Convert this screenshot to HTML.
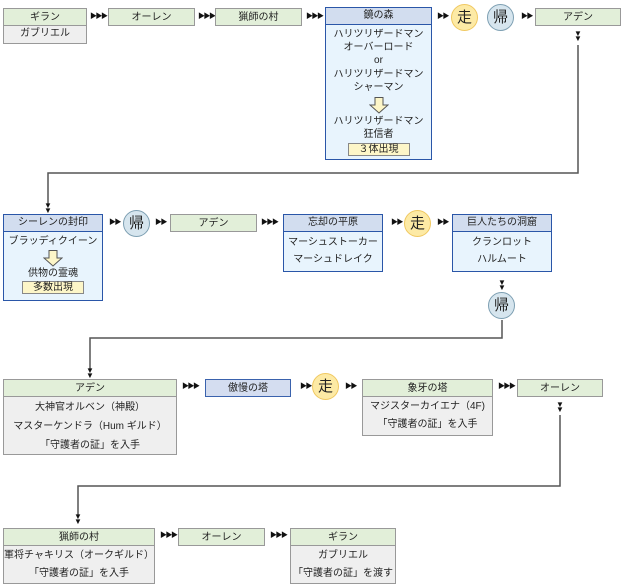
<!DOCTYPE html>
<html><head><meta charset="utf-8"><style>
body{margin:0;width:621px;height:585px;background:#fff;position:relative;overflow:hidden;font-family:"Liberation Sans","Noto Sans CJK JP",sans-serif;font-size:10px;color:#222}
div{box-sizing:border-box}
.a{position:absolute}
.gh{position:absolute;background:#e2efd9;border:1px solid #999;text-align:center;line-height:17px;height:18px}
.gb{position:absolute;background:#efefef;border:1px solid #999;border-top:none;text-align:center;line-height:19px;padding-top:1px}
.bh{position:absolute;background:#d2ddef;border:1.5px solid #2a56a8;text-align:center;line-height:16px;height:18px}
.bb{position:absolute;background:#e8f4fd;border:1.5px solid #2a56a8;border-top:none;text-align:center;line-height:13px;padding-top:3px}
.run,.ret{position:absolute;width:27px;height:27px;border-radius:50%;text-align:center;line-height:25px;font-size:15px}
.run{background:#fdeaa5;border:1px solid #f0c860}
.ret{background:#d6e5ee;border:1px solid #7d9fb2}
.ar{position:absolute;font-size:7px;letter-spacing:-1.5px;color:#111;line-height:10px}
.dn{position:absolute;font-size:8px;line-height:5px;color:#111;width:12px;text-align:center}
.lab{display:inline-block;background:#fdf6c8;border:1px solid #888;width:60px;line-height:11px;margin-top:2px}
.darr{display:block;margin:3px auto 1px}
</style></head><body>
<svg class="a" style="left:0;top:0" width="621" height="585">
<g stroke="#555" stroke-width="1.5" fill="none">
<polyline points="578,45 578,173 48,173 48,204"/>
<polyline points="502,320 502,338 90,338 90,370"/>
<polyline points="560,415 560,486 78,486 78,515"/>
</g>
</svg>

<!-- Row 1 -->
<div class="gh" style="left:3px;top:8px;width:84px">ギラン</div>
<div class="gb" style="left:3px;top:26px;width:84px;height:18px;line-height:16px;padding:0">ガブリエル</div>
<div class="ar" style="left:90px;top:12px">▶▶▶</div>
<div class="gh" style="left:108px;top:8px;width:87px">オーレン</div>
<div class="ar" style="left:198px;top:12px">▶▶▶</div>
<div class="gh" style="left:215px;top:8px;width:87px">猟師の村</div>
<div class="ar" style="left:306px;top:12px">▶▶▶</div>
<div class="bh" style="left:325px;top:7px;width:107px">鏡の森</div>
<div class="bb" style="left:325px;top:25px;width:107px;height:135px;line-height:13.2px;padding-top:3px">ハリツリザードマン<br>オーバーロード<br>or<br>ハリツリザードマン<br>シャーマン<br>
<svg class="darr" width="20" height="17"><polygon points="6,0.5 14,0.5 14,8 19,8 10,16 1,8 6,8" fill="#fdf6c8" stroke="#555"/></svg>
ハリツリザードマン<br>狂信者<br><span class="lab">３体出現</span></div>
<div class="ar" style="left:437px;top:12px">▶▶</div>
<div class="run" style="left:451px;top:4px">走</div>
<div class="ret" style="left:487px;top:4px">帰</div>
<div class="ar" style="left:521px;top:12px">▶▶</div>
<div class="gh" style="left:535px;top:8px;width:86px">アデン</div>
<div class="dn" style="left:572px;top:31px">▼<br>▼</div>

<!-- Row 2 -->
<div class="dn" style="left:42px;top:203px">▼<br>▼</div>
<div class="bh" style="left:3px;top:214px;width:100px">シーレンの封印</div>
<div class="bb" style="left:3px;top:232px;width:100px;height:69px;line-height:14px;padding-top:3px">ブラッディクイーン<br>
<svg class="darr" width="20" height="17" style="margin:1px auto 0"><polygon points="6,0.5 14,0.5 14,8 19,8 10,16 1,8 6,8" fill="#fdf6c8" stroke="#555"/></svg>
供物の霊魂<br><span class="lab" style="margin-top:0">多数出現</span></div>
<div class="ar" style="left:109px;top:218px">▶▶</div>
<div class="ret" style="left:123px;top:210px">帰</div>
<div class="ar" style="left:155px;top:218px">▶▶</div>
<div class="gh" style="left:170px;top:214px;width:87px">アデン</div>
<div class="ar" style="left:261px;top:218px">▶▶▶</div>
<div class="bh" style="left:283px;top:214px;width:100px">忘却の平原</div>
<div class="bb" style="left:283px;top:232px;width:100px;height:40px;line-height:17px;padding-top:2px">マーシュストーカー<br>マーシュドレイク</div>
<div class="ar" style="left:391px;top:218px">▶▶</div>
<div class="run" style="left:404px;top:210px">走</div>
<div class="ar" style="left:437px;top:218px">▶▶</div>
<div class="bh" style="left:452px;top:214px;width:100px">巨人たちの洞窟</div>
<div class="bb" style="left:452px;top:232px;width:100px;height:40px;line-height:17px;padding-top:2px">クランロット<br>ハルムート</div>
<div class="dn" style="left:496px;top:280px">▼<br>▼</div>
<div class="ret" style="left:488px;top:292px">帰</div>

<!-- Row 3 -->
<div class="dn" style="left:84px;top:368px">▼<br>▼</div>
<div class="gh" style="left:3px;top:379px;width:174px">アデン</div>
<div class="gb" style="left:3px;top:397px;width:174px;height:58px">大神官オルベン（神殿）<br>マスターケンドラ（Hum ギルド）<br>「守護者の証」を入手</div>
<div class="ar" style="left:182px;top:382px">▶▶▶</div>
<div class="gh" style="left:205px;top:379px;width:86px;background:#d4ddf0;border-color:#3a62ad">傲慢の塔</div>
<div class="ar" style="left:300px;top:382px">▶▶</div>
<div class="run" style="left:312px;top:373px">走</div>
<div class="ar" style="left:345px;top:382px">▶▶</div>
<div class="gh" style="left:362px;top:379px;width:131px">象牙の塔</div>
<div class="gb" style="left:362px;top:397px;width:131px;height:39px;line-height:18px">マジスターカイエナ（4F)<br>「守護者の証」を入手</div>
<div class="ar" style="left:498px;top:382px">▶▶▶</div>
<div class="gh" style="left:517px;top:379px;width:86px">オーレン</div>
<div class="dn" style="left:554px;top:402px">▼<br>▼</div>

<!-- Row 4 -->
<div class="dn" style="left:72px;top:514px">▼<br>▼</div>
<div class="gh" style="left:3px;top:528px;width:152px">猟師の村</div>
<div class="gb" style="left:3px;top:546px;width:152px;height:38px;line-height:18px;padding-top:1px">軍将チャキリス（オークギルド）<br>「守護者の証」を入手</div>
<div class="ar" style="left:160px;top:531px">▶▶▶</div>
<div class="gh" style="left:178px;top:528px;width:87px">オーレン</div>
<div class="ar" style="left:270px;top:531px">▶▶▶</div>
<div class="gh" style="left:290px;top:528px;width:106px">ギラン</div>
<div class="gb" style="left:290px;top:546px;width:106px;height:38px;line-height:18px;padding-top:1px">ガブリエル<br>「守護者の証」を渡す</div>
</body></html>
